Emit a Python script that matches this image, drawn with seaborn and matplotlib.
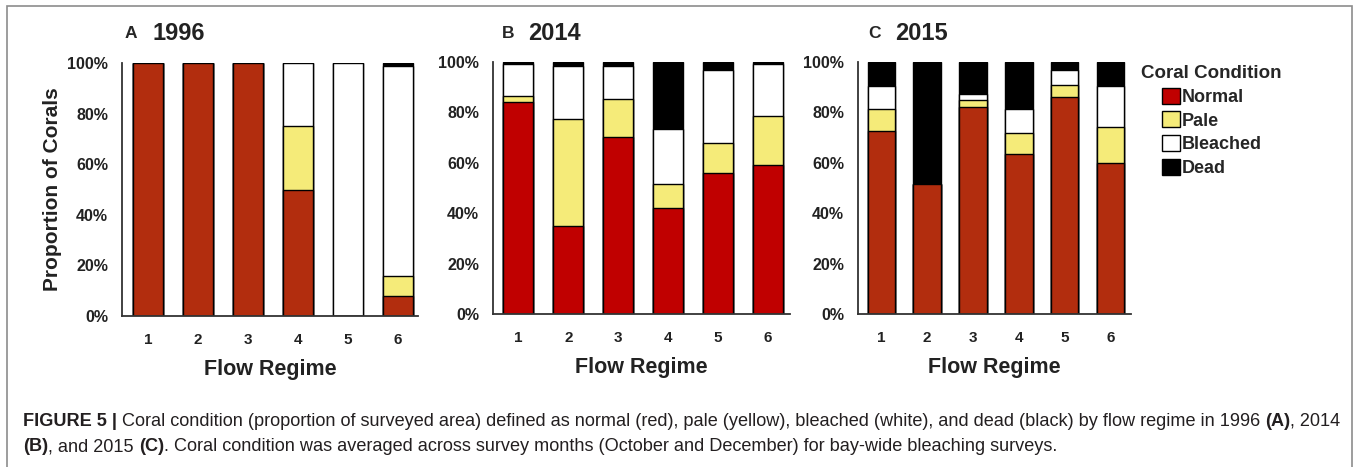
import numpy as np
import pandas as pd
import matplotlib
matplotlib.use('Agg')
import matplotlib.pyplot as plt
import seaborn as sns
from matplotlib.patches import Patch, Rectangle
from matplotlib.ticker import FuncFormatter

# --- data (percent of surveyed area) ---
regimes = ['1', '2', '3', '4', '5', '6']
conditions = ['Normal', 'Pale', 'Bleached', 'Dead']
years = ['1996', '2014', '2015']
panel_letters = ['A', 'B', 'C']

normal_1996 = [100, 100, 100, 50, 0, 8]
pale_1996 = [0, 0, 0, 25, 0, 8]
bleached_1996 = [0, 0, 0, 25, 100, 83]
dead_1996 = [0, 0, 0, 0, 0, 1]

normal_2014 = [84.0, 35.0, 70.3, 42.2, 56.1, 59.1]
pale_2014 = [2.5, 42.3, 14.9, 9.5, 11.6, 19.5]
bleached_2014 = [12.6, 21.1, 13.2, 21.9, 29.3, 20.5]
dead_2014 = [0.9, 1.6, 1.6, 26.4, 3.0, 0.9]

normal_2015 = [72.7, 51.7, 82.2, 63.3, 86.0, 59.8]
pale_2015 = [8.8, 0, 2.6, 8.7, 5.0, 14.5]
bleached_2015 = [8.9, 0, 2.5, 9.5, 6.0, 16.1]
dead_2015 = [9.6, 48.3, 12.7, 18.5, 3.0, 9.6]

series = {
    '1996': [normal_1996, pale_1996, bleached_1996, dead_1996],
    '2014': [normal_2014, pale_2014, bleached_2014, dead_2014],
    '2015': [normal_2015, pale_2015, bleached_2015, dead_2015],
}

# --- style ---
sns.set_style('white')
plt.rcParams['font.family'] = ['Liberation Sans', 'DejaVu Sans']

red_brick = '#B22D0E'
red_pure = '#C00000'
pale_col = '#F5EB79'
colors = {
    '1996': [red_brick, pale_col, '#FFFFFF', '#000000'],
    '2014': [red_pure, pale_col, '#FFFFFF', '#000000'],
    '2015': [red_brick, pale_col, '#FFFFFF', '#000000'],
}

W, H = 1358, 467
fig = plt.figure(figsize=(W / 100, H / 100), dpi=100)

# axes boxes in pixels: left, right, top(100%), bottom(0%)
boxes = {
    '1996': (122, 418, 63, 316),
    '2014': (493, 790, 62, 314),
    '2015': (858, 1131, 62, 314),
}
xlims = {'1996': (-0.52, 5.41), '2014': (-0.51, 5.44), '2015': (-0.51, 5.45)}
title_x = {'1996': (125, 152), '2014': (502, 528), '2015': (868, 895)}

for letter, year in zip(panel_letters, years):
    l, r, t, b = boxes[year]
    ax = fig.add_axes([l / W, 1 - b / H, (r - l) / W, (b - t) / H])
    cum = np.cumsum(np.array(series[year]), axis=0)
    # draw tallest stack first so lower segments overlay it
    for i in range(3, -1, -1):
        df = pd.DataFrame({'Flow Regime': regimes, 'value': cum[i]})
        sns.barplot(data=df, x='Flow Regime', y='value', order=regimes,
                    color=colors[year][i], saturation=1, width=0.6,
                    edgecolor='black', linewidth=1.0, errorbar=None, ax=ax)
    ax.set_ylim(0, 100)
    ax.set_xlim(*xlims[year])
    ax.set_yticks([0, 20, 40, 60, 80, 100])
    ax.yaxis.set_major_formatter(FuncFormatter(lambda v, p: f'{int(v)}%'))
    ax.tick_params(axis='y', length=0, pad=10, labelsize=11.5)
    ax.tick_params(axis='x', length=0, pad=12, labelsize=11)
    for lab in ax.get_xticklabels() + ax.get_yticklabels():
        lab.set_fontweight('bold')
        lab.set_color('#222222')
    for s in ['top', 'right']:
        ax.spines[s].set_visible(False)
    for s in ['left', 'bottom']:
        ax.spines[s].set_color('#333333')
        ax.spines[s].set_linewidth(1.3)
    ax.set_xlabel('Flow Regime', fontsize=15.5, fontweight='bold', labelpad=9, color='#222222')
    if year == '1996':
        ax.set_ylabel('Proportion of Corals', fontsize=15, fontweight='bold', labelpad=4, color='#222222')
    else:
        ax.set_ylabel('')
    tx1, tx2 = title_x[year]
    fig.text(tx1 / W, 1 - 34 / H, letter, fontsize=12.5, fontweight='bold', va='center', ha='left')
    fig.text(tx2 / W, 1 - 34 / H, year, fontsize=17, fontweight='bold', va='center', ha='left', color='#222222')

# legend
handles = [Patch(facecolor=c, edgecolor='black', linewidth=1) for c in [red_pure, pale_col, '#FFFFFF', '#000000']]
leg = fig.legend(handles, conditions, title='Coral Condition', loc='upper left',
                 bbox_to_anchor=(1134 / W, 1 - 58 / H), frameon=False,
                 fontsize=13, title_fontsize=13.5, handlelength=1.0, handleheight=1.0,
                 handletextpad=0.1, labelspacing=0.3, borderaxespad=0)
leg.get_title().set_fontweight('bold')
for txt in leg.get_texts():
    txt.set_fontweight('bold')

# frame around the figure
fig.patches.append(Rectangle((7 / W, -0.05), (1352 - 7) / W, 1.05 - 6 / H, transform=fig.transFigure,
                             fill=False, edgecolor='#8C8C8C', linewidth=1.2))

# caption with mixed bold / regular runs
cap_size = 13.05
renderer = fig.canvas.get_renderer()
space_px = 0.278 * cap_size * 100 / 72


def rich_line(x_px, y_px, parts):
    for text, bold, gap in parts:
        if gap:
            x_px += space_px
        t = fig.text(x_px / W, 1 - y_px / H, text, fontsize=cap_size,
                     fontweight='bold' if bold else 'normal', va='baseline', ha='left', color='#231F20')
        x_px = t.get_window_extent(renderer).x1


rich_line(23, 426, [
    ('FIGURE 5 |', True, False),
    ('Coral condition (proportion of surveyed area) defined as normal (red), pale (yellow), '
     'bleached (white), and dead (black) by flow regime in 1996', False, True),
    ('(A)', True, True),
    (', 2014', False, False),
])
rich_line(23, 451, [
    ('(B)', True, False),
    (', and 2015', False, False),
    ('(C)', True, True),
    ('. Coral condition was averaged across survey months (October and December) for bay-wide bleaching surveys.',
     False, False),
])

fig.savefig('out.png', dpi=100)
